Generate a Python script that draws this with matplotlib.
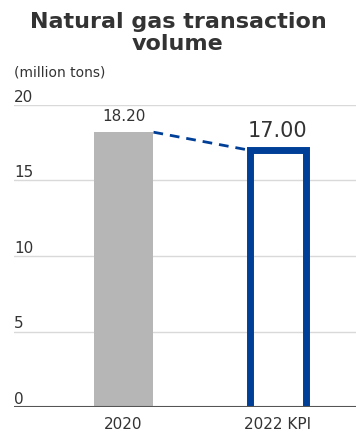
import matplotlib.pyplot as plt

categories = ['2020', '2022 KPI']
values = [18.20, 17.00]
value_labels = ['18.20', '17.00']
yticks = [0, 5, 10, 15, 20]

gray = '#b5b6b5'
blue = '#003f98'
text_color = '#333333'

fig = plt.figure(figsize=(3.56, 4.33), dpi=100)
ax = fig.add_axes([14 / 356, 1 - 407 / 433, 342 / 356, 302 / 433])

x = [0, 1]
w = 0.388
ax.bar(x[0], values[0], width=w, color=gray, zorder=2)
# target bar: outline open at the bottom
left, right = x[1] - w / 2 + 0.012, x[1] + w / 2 - 0.012
ax.plot([left, left, right, right], [0, values[1], values[1], 0], color=blue,
        linewidth=5, solid_joinstyle='miter', solid_capstyle='butt', zorder=2)

# dashed link from the top of the first bar to the second
ax.plot([x[0] + w / 2, left], [values[0], values[1]], color=blue,
        linestyle=(0, (3.5, 2.5)), linewidth=2, zorder=3)

ax.text(x[0], values[0] + 0.55, value_labels[0], ha='center', va='bottom',
        fontsize=11, color=text_color)
ax.text(x[1], values[1] + 0.6, value_labels[1], ha='center', va='bottom',
        fontsize=15, color=text_color)

ax.set_xlim(-0.709, 1.505)
ax.set_ylim(0, 20)
for t in yticks:
    if t > 0:
        ax.axhline(t, color='#d9d9d9', linewidth=1, zorder=1)
    ax.text(0.0, t + 0.22, str(t), transform=ax.get_yaxis_transform(),
            ha='left', va='baseline', fontsize=11, color=text_color)
ax.axhline(0, color='#555555', linewidth=1.5, zorder=4)

ax.set_xticks(x)
ax.set_xticklabels(categories, fontsize=11, color=text_color)
ax.tick_params(axis='x', length=0, pad=7)
ax.set_yticks([])
for s in ax.spines.values():
    s.set_visible(False)

fig.text(0.5, 1 - 33 / 433, 'Natural gas transaction\nvolume', ha='center', va='center',
         fontsize=16, fontweight='bold', color=text_color, linespacing=1.1)
fig.text(14 / 356, 1 - 73 / 433, '(million tons)', ha='left', va='center',
         fontsize=10, color=text_color)

fig.savefig('out.png', dpi=100)
